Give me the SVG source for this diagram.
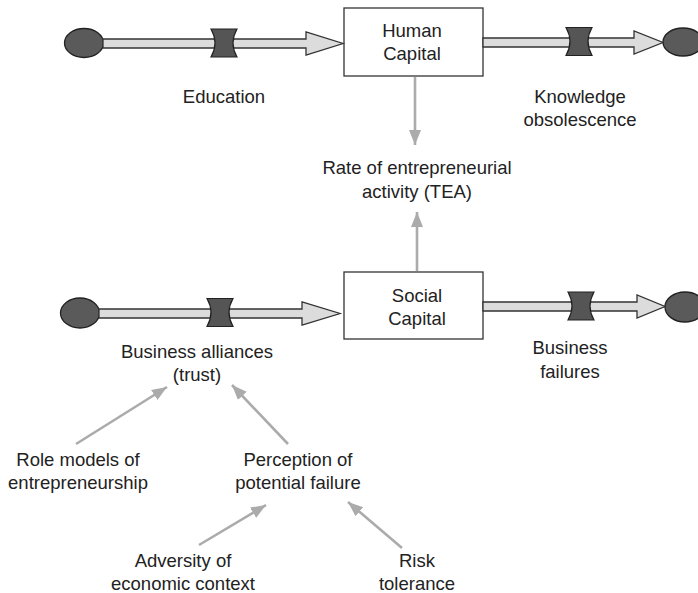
<svg xmlns="http://www.w3.org/2000/svg" width="698" height="593" viewBox="0 0 698 593">
  <style>
    .lbl { font-family: "Liberation Sans", Arial, sans-serif; font-size: 18.5px; fill: #222; text-anchor: middle; }
    .box { fill: #fff; stroke: #333; stroke-width: 1.3; }
    .pipe { fill: #dcdcdc; stroke: #333; stroke-width: 1.3; stroke-linejoin: miter; }
    .cloud { fill: #5a5a5a; stroke: #222; stroke-width: 1.3; }
    .valve { fill: #555; stroke: #222; stroke-width: 1.2; }
    .link { stroke: #ababab; stroke-width: 2.6; fill: none; marker-end: url(#head); }
  </style>
  <defs>
    <marker id="head" markerUnits="userSpaceOnUse" markerWidth="16" markerHeight="16" viewBox="0 0 16 16" refX="15" refY="8" orient="auto">
      <path d="M0,2 L15,8 L0,14 Z" fill="#ababab"/>
    </marker>
    <path id="valveShape" d="M-13,-14 L13,-14 Q5,0 13,14 L-13,14 Q-5,0 -13,-14 Z"/>
  </defs>

  <!-- Stock: Human Capital -->
  <g id="human-capital">
    <rect class="box" x="344" y="8" width="139" height="68"/>
    <text class="lbl" x="412" y="37">Human</text>
    <text class="lbl" x="412" y="60">Capital</text>
  </g>

  <!-- Stock: Social Capital -->
  <g id="social-capital">
    <rect class="box" x="344" y="272" width="139" height="67"/>
    <text class="lbl" x="417" y="302">Social</text>
    <text class="lbl" x="417" y="325">Capital</text>
  </g>

  <!-- Flow: Education -->
  <g id="education">
    <ellipse class="cloud" cx="84" cy="43" rx="19.5" ry="14.5"/>
    <path class="pipe" d="M103,39 L306,39 L306,32 L343,43.5 L306,55 L306,48 L103,48 Z"/>
    <use href="#valveShape" class="valve" transform="translate(224,43)"/>
    <text class="lbl" x="224" y="103">Education</text>
  </g>

  <!-- Flow: Knowledge obsolescence -->
  <g id="knowledge-obsolescence">
    <path class="pipe" d="M483,38 L634,38 L634,31 L663,42.5 L634,54 L634,47 L483,47 Z"/>
    <use href="#valveShape" class="valve" transform="translate(579,41.5)"/>
    <ellipse class="cloud" cx="683" cy="42" rx="20" ry="14"/>
    <text class="lbl" x="580" y="103">Knowledge</text>
    <text class="lbl" x="580" y="126">obsolescence</text>
  </g>

  <!-- Flow: Business alliances -->
  <g id="business-alliances">
    <ellipse class="cloud" cx="80" cy="313" rx="19.5" ry="15"/>
    <path class="pipe" d="M99,309 L302,309 L302,302 L340,313.5 L302,325 L302,318 L99,318 Z"/>
    <use href="#valveShape" class="valve" transform="translate(220,312.5)"/>
    <text class="lbl" x="197" y="358">Business alliances</text>
    <text class="lbl" x="197" y="381">(trust)</text>
  </g>

  <!-- Flow: Business failures -->
  <g id="business-failures">
    <path class="pipe" d="M483,302 L637,302 L637,295 L665,306.5 L637,318 L637,311 L483,311 Z"/>
    <use href="#valveShape" class="valve" transform="translate(581,306)"/>
    <ellipse class="cloud" cx="685" cy="307" rx="20" ry="15"/>
    <text class="lbl" x="570" y="354">Business</text>
    <text class="lbl" x="570" y="378">failures</text>
  </g>

  <!-- Auxiliary variables -->
  <g id="tea">
    <text class="lbl" x="417" y="174">Rate of entrepreneurial</text>
    <text class="lbl" x="417" y="198">activity (TEA)</text>
  </g>
  <g id="role-models">
    <text class="lbl" x="78" y="466">Role models of</text>
    <text class="lbl" x="78" y="489">entrepreneurship</text>
  </g>
  <g id="perception">
    <text class="lbl" x="298" y="466">Perception of</text>
    <text class="lbl" x="298" y="489">potential failure</text>
  </g>
  <g id="adversity">
    <text class="lbl" x="183" y="567">Adversity of</text>
    <text class="lbl" x="183" y="590">economic context</text>
  </g>
  <g id="risk-tolerance">
    <text class="lbl" x="417" y="567">Risk</text>
    <text class="lbl" x="417" y="590">tolerance</text>
  </g>

  <!-- Causal links -->
  <g id="connectors">
    <line class="link" x1="415" y1="77" x2="415" y2="145"/>
    <line class="link" x1="417" y1="271" x2="417" y2="212"/>
    <line class="link" x1="76" y1="444" x2="167" y2="387"/>
    <line class="link" x1="288" y1="444" x2="232" y2="385"/>
    <line class="link" x1="199" y1="545" x2="266" y2="505"/>
    <line class="link" x1="402" y1="548" x2="348" y2="502"/>
  </g>
</svg>
